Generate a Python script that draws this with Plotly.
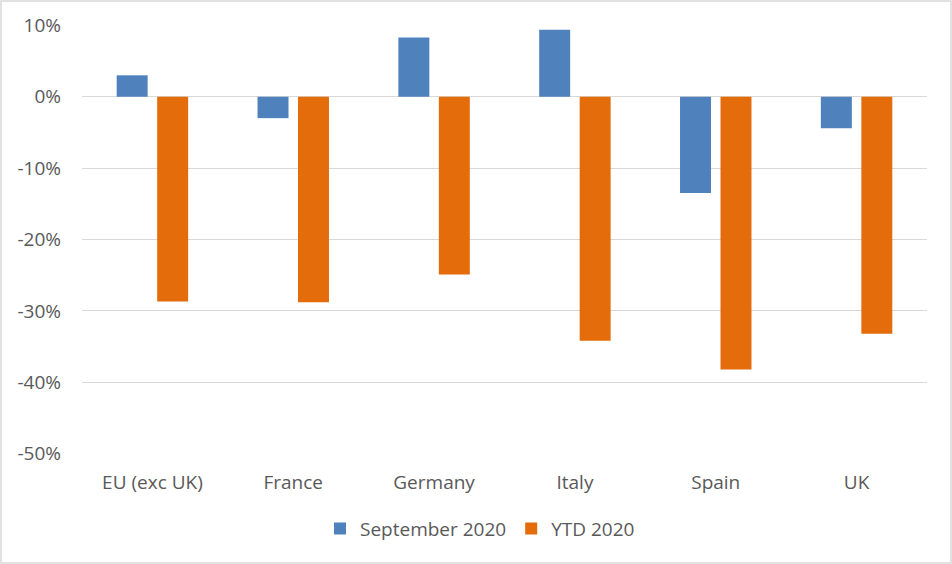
import plotly.graph_objects as go

categories = ["EU (exc UK)", "France", "Germany", "Italy", "Spain", "UK"]
september_2020 = [0.030, -0.030, 0.083, 0.094, -0.135, -0.044]
ytd_2020 = [-0.287, -0.288, -0.249, -0.342, -0.382, -0.332]
y_ticks = [0.1, 0.0, -0.1, -0.2, -0.3, -0.4, -0.5]
y_tick_text = [f"{round(v * 100)}%" for v in y_ticks]

W, H = 952, 564
ML, MR, MT, MB = 82, 25, 25, 110
FONT = "Open Sans"
TXT = "#595959"

fig = go.Figure()
fig.add_trace(go.Bar(name="September 2020", x=categories, y=september_2020,
                     marker=dict(color="#4F81BD", line=dict(width=0))))
fig.add_trace(go.Bar(name="YTD 2020", x=categories, y=ytd_2020,
                     marker=dict(color="#E46C0A", line=dict(width=0))))

pw = W - ML - MR
ph = H - MT - MB
fig.add_shape(type="rect", xref="paper", yref="paper",
              x0=(-ML + 1) / pw, x1=1 + (MR - 1) / pw,
              y0=(-MB + 1) / ph, y1=1 + (MT - 1) / ph,
              line=dict(color="#D9D9D9", width=1.5), layer="below")

fig.update_layout(
    width=W, height=H,
    margin=dict(l=ML, r=MR, t=MT, b=MB, autoexpand=False),
    paper_bgcolor="white", plot_bgcolor="white",
    barmode="group", bargap=0.425, bargroupgap=0.235,
    font=dict(family=FONT, size=18, color=TXT),
    showlegend=True,
    legend=dict(orientation="h", x=0.471, xanchor="center", y=-0.13, yanchor="top",
                font=dict(family=FONT, size=19, color=TXT),
                itemwidth=30, traceorder="normal"),
    xaxis=dict(showgrid=False, showline=False, ticks="", zeroline=False, automargin=False,
               tickfont=dict(family=FONT, size=19, color=TXT), ticklabelstandoff=15),
    yaxis=dict(range=[-0.5005, 0.1005], tickvals=y_ticks, ticktext=y_tick_text,
               showgrid=True, gridcolor="#D9D9D9", gridwidth=1.3, automargin=False,
               zeroline=False, showline=False, ticks="",
               tickfont=dict(family=FONT, size=19, color=TXT), ticklabelstandoff=20),
)

fig.write_html("out.html",
               config={"displayModeBar": False},
               post_script="document.body.style.margin='0';document.body.style.overflow='hidden';")
